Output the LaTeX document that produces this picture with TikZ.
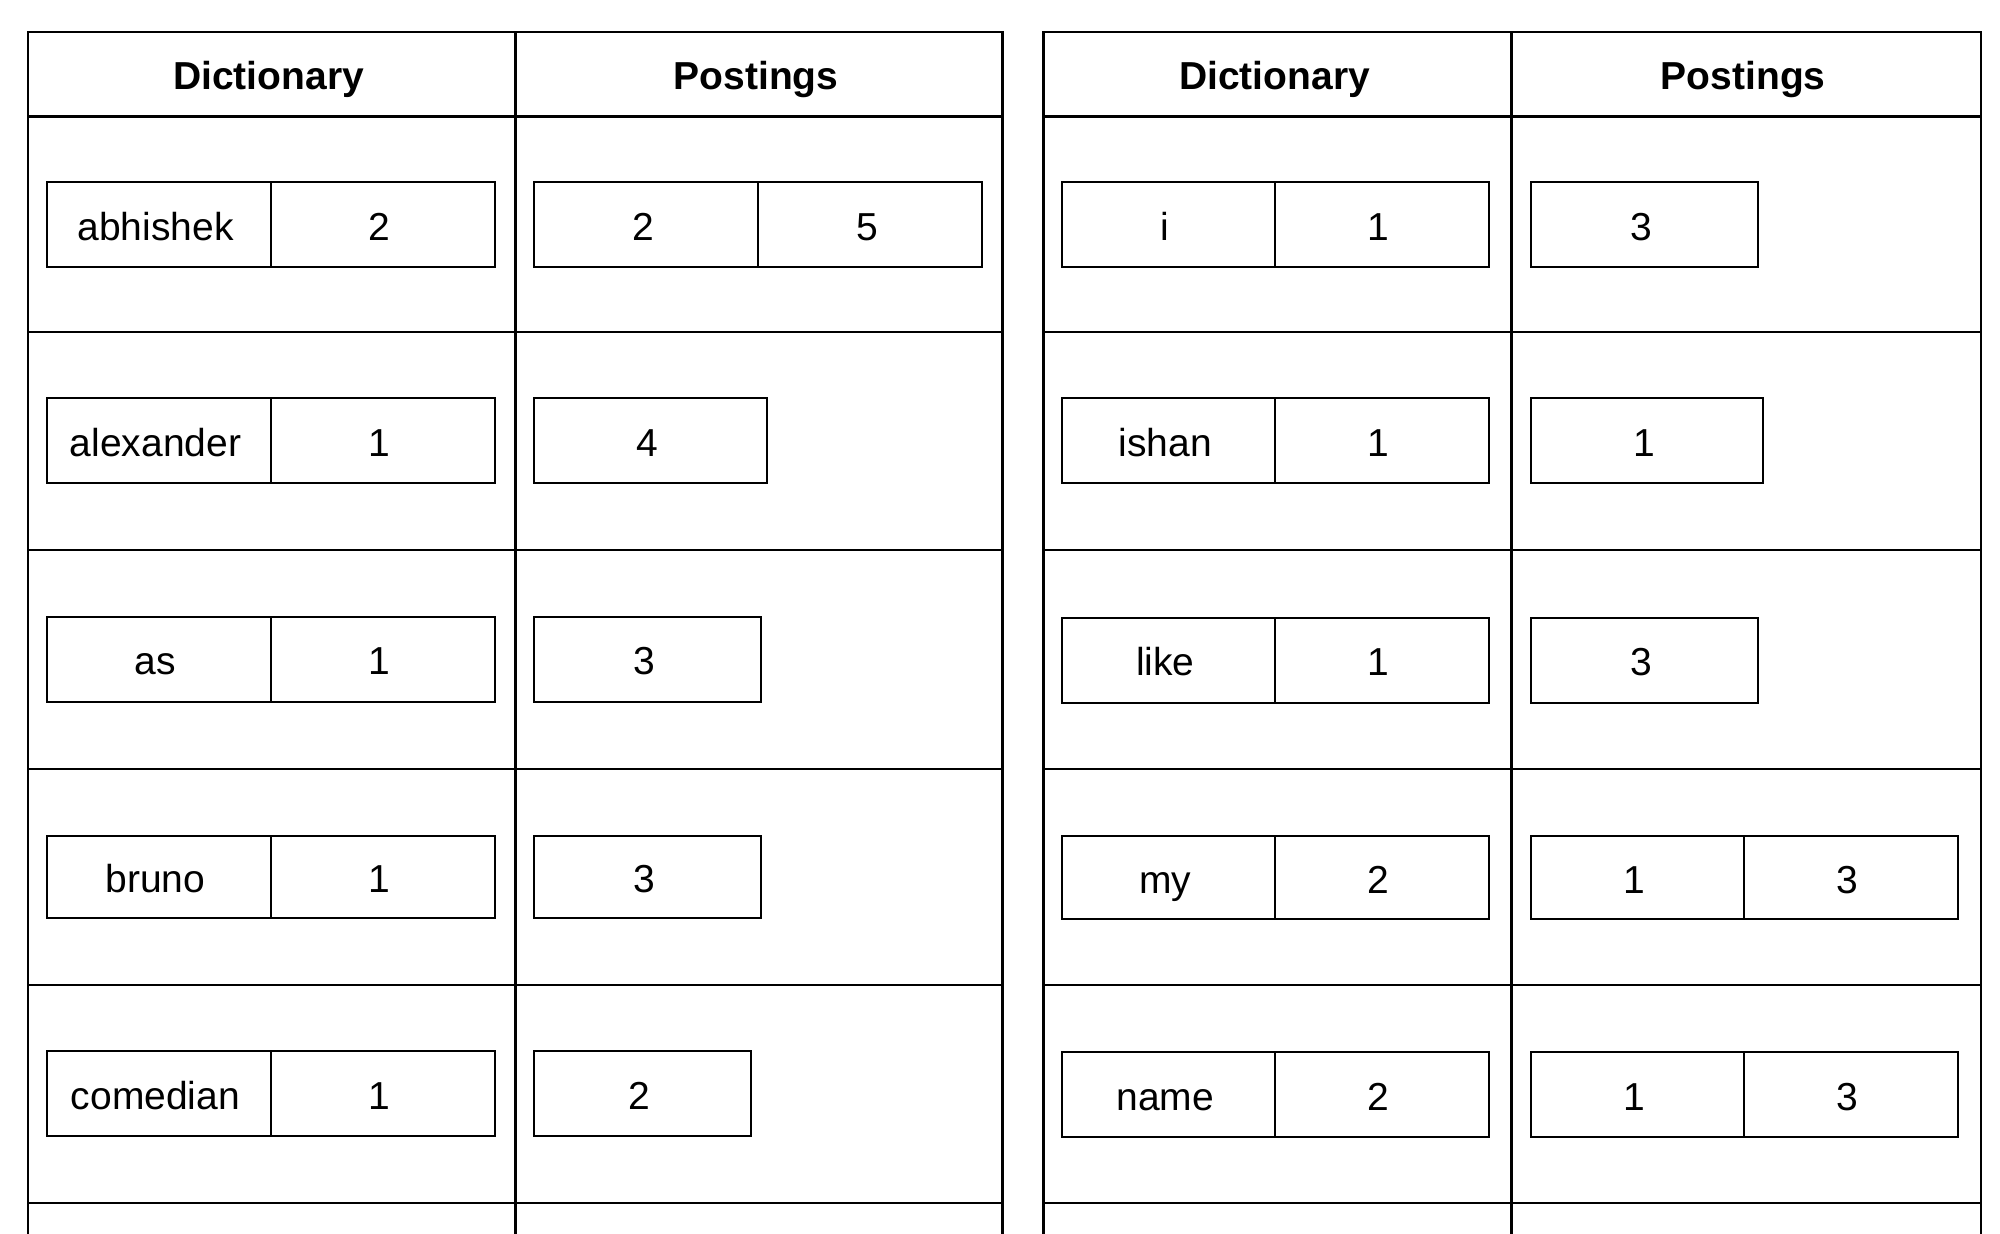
\documentclass[tikz,border=0pt]{standalone}
\usepackage{fontspec}
\setmainfont{Liberation Sans}
\begin{document}
\begin{tikzpicture}[x=0.5pt,y=-0.5pt,
  grid/.style={draw=black,line width=1.2pt},
  cellb/.style={draw=black,line width=1pt,minimum height=42.5pt,inner sep=0pt,
    text height=15.96pt,text depth=0pt,anchor=west,font=\fontsize{19.5}{23}\selectfont,
    execute at begin node={\hspace*{-3pt}}},
  head/.style={inner sep=0pt,text height=14.96pt,text depth=0pt,font=\fontsize{19.5}{23}\selectfont\bfseries,
    execute at begin node={\hspace*{-3pt}}}]
\useasboundingbox (0,0) rectangle (2000,1234);
\fill[white] (0,0) rectangle (2000,1234);
% ---- table grids ----
\foreach \xl/\xm/\xr in {28/515.3/1002.6, 1043.4/1511.5/1981}{
  \draw[grid] (\xl,1240) -- (\xl,31.9) -- (\xr,31.9) -- (\xr,1240);
  \draw[grid] (\xm,31.9) -- (\xm,1240);
  \foreach \yy in {116.5,331.8,550,769,985,1203}{
    \draw[grid] (\xl,\yy) -- (\xr,\yy);
  }
}
% ---- headers ----
\node[head] (hd1) at (271.6,74.2) {Dictionary};
\node[head] (hp1) at (759,74.2) {Postings};
\node[head] (hd2) at (1277.5,74.2) {Dictionary};
\node[head] (hp2) at (1746.3,74.2) {Postings};
% ---- left table ----
% row 1
\node[cellb,minimum width=112pt] (w1) at (45.5,225) {abhishek};
\node[cellb,minimum width=112pt] (c1) at (269.5,225) {2};
\node[cellb,minimum width=112pt] (p1a) at (533,225) {2};
\node[cellb,minimum width=112pt] (p1b) at (757,225) {5};
% row 2
\node[cellb,minimum width=112pt] (w2) at (45.5,441) {alexander};
\node[cellb,minimum width=112pt] (c2) at (269.5,441) {1};
\node[cellb,minimum width=116.5pt] (p2a) at (533,441) {4};
% row 3
\node[cellb,minimum width=112pt] (w3) at (45.5,659) {as};
\node[cellb,minimum width=112pt] (c3) at (269.5,659) {1};
\node[cellb,minimum width=113.5pt] (p3a) at (533,659) {3};
% row 4
\node[cellb,minimum width=112pt,minimum height=41pt] (w4) at (45.5,876.5) {bruno};
\node[cellb,minimum width=112pt,minimum height=41pt] (c4) at (269.5,876.5) {1};
\node[cellb,minimum width=113.5pt,minimum height=41pt] (p4a) at (533,876.5) {3};
% row 5
\node[cellb,minimum width=112pt] (w5) at (45.5,1093.5) {comedian};
\node[cellb,minimum width=112pt] (c5) at (269.5,1093.5) {1};
\node[cellb,minimum width=108.5pt] (p5a) at (533,1093.5) {2};
% ---- right table ----
% row 1
\node[cellb,minimum width=106.75pt] (w6) at (1060.5,225) {i};
\node[cellb,minimum width=106.75pt] (c6) at (1274,225) {1};
\node[cellb,minimum width=113.25pt] (p6a) at (1530,225) {3};
% row 2
\node[cellb,minimum width=106.75pt] (w7) at (1060.5,441) {ishan};
\node[cellb,minimum width=106.75pt] (c7) at (1274,441) {1};
\node[cellb,minimum width=116pt] (p7a) at (1530,441) {1};
% row 3
\node[cellb,minimum width=106.75pt] (w8) at (1060.5,660) {like};
\node[cellb,minimum width=106.75pt] (c8) at (1274,660) {1};
\node[cellb,minimum width=113.25pt] (p8a) at (1530,660) {3};
% row 4
\node[cellb,minimum width=106.75pt,minimum height=41.5pt] (w9) at (1060.5,877.5) {my};
\node[cellb,minimum width=106.75pt,minimum height=41.5pt] (c9) at (1274,877.5) {2};
\node[cellb,minimum width=106.25pt,minimum height=41.5pt] (p9a) at (1530,877.5) {1};
\node[cellb,minimum width=107pt,minimum height=41.5pt] (p9b) at (1742.5,877.5) {3};
% row 5
\node[cellb,minimum width=106.75pt] (w10) at (1060.5,1094.5) {name};
\node[cellb,minimum width=106.75pt] (c10) at (1274,1094.5) {2};
\node[cellb,minimum width=106.25pt] (p10a) at (1530,1094.5) {1};
\node[cellb,minimum width=107pt] (p10b) at (1742.5,1094.5) {3};
\end{tikzpicture}
\end{document}
